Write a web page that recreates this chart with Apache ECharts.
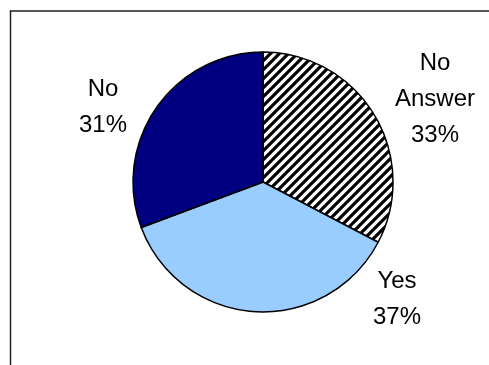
<!DOCTYPE html>
<html>

<head>
  <meta charset="UTF-8">
  <title>Survey answers</title>
  <script src="https://cdn.jsdelivr.net/npm/echarts@6.0.0/dist/echarts.min.js"></script>
  <style>
    html, body { margin: 0; padding: 0; background: #fff; }
    #chart { width: 489px; height: 365px; }
  </style>
</head>

<body>
  <div id="chart"></div>
  <script>
    // slice order: clockwise from 12 o'clock
    const categories = ['No Answer', 'Yes', 'No'];
    const labelNames = ['No\nAnswer', 'Yes', 'No'];
    const percents = [33, 37, 31];

    // label anchor points (Excel places them freely, not at mid-angle)
    const labelPos = [[435, 99], [397, 299], [103, 107]];

    // diagonal hatch tile for "No Answer"
    function hatch() {
      const s = 9;
      const c = document.createElement('canvas');
      c.width = s; c.height = s;
      const g = c.getContext('2d');
      g.fillStyle = '#fff';
      g.fillRect(0, 0, s, s);
      g.strokeStyle = '#000';
      g.lineWidth = 3.2;
      g.beginPath();
      g.moveTo(-2, 2); g.lineTo(2, -2);
      g.moveTo(0, s); g.lineTo(s, 0);
      g.moveTo(s - 2, s + 2); g.lineTo(s + 2, s - 2);
      g.stroke();
      return c;
    }

    const colors = [
      { image: hatch(), repeat: 'repeat' },
      '#99ccff',
      '#000080'
    ];

    const chart = echarts.init(document.getElementById('chart'));
    chart.setOption({
      animation: false,
      graphic: [{
        type: 'rect',
        shape: { x: 10.5, y: 11, width: 500, height: 400 },
        style: { fill: 'none', stroke: '#222', lineWidth: 1.5 },
        silent: true
      }],
      series: [{
        type: 'pie',
        center: [263, 182],
        radius: 130,
        startAngle: 90,
        clockwise: true,
        data: categories.map((n, i) => ({
          name: n,
          value: percents[i],
          itemStyle: { color: colors[i] }
        })),
        itemStyle: { borderColor: '#000', borderWidth: 1.5 },
        label: {
          show: true,
          position: 'outside',
          formatter: p => labelNames[p.dataIndex] + '\n' + percents[p.dataIndex] + '%',
          fontFamily: 'Liberation Sans, Arial, sans-serif',
          fontSize: 24,
          lineHeight: 36,
          color: '#000',
          align: 'center',
          overflow: 'none',
          width: 200
        },
        labelLine: { show: false },
        labelLayout: p => ({
          x: labelPos[p.dataIndex][0],
          y: labelPos[p.dataIndex][1],
          align: 'center',
          verticalAlign: 'middle',
          hideOverlap: false
        })
      }]
    });
  </script>
</body>

</html>
